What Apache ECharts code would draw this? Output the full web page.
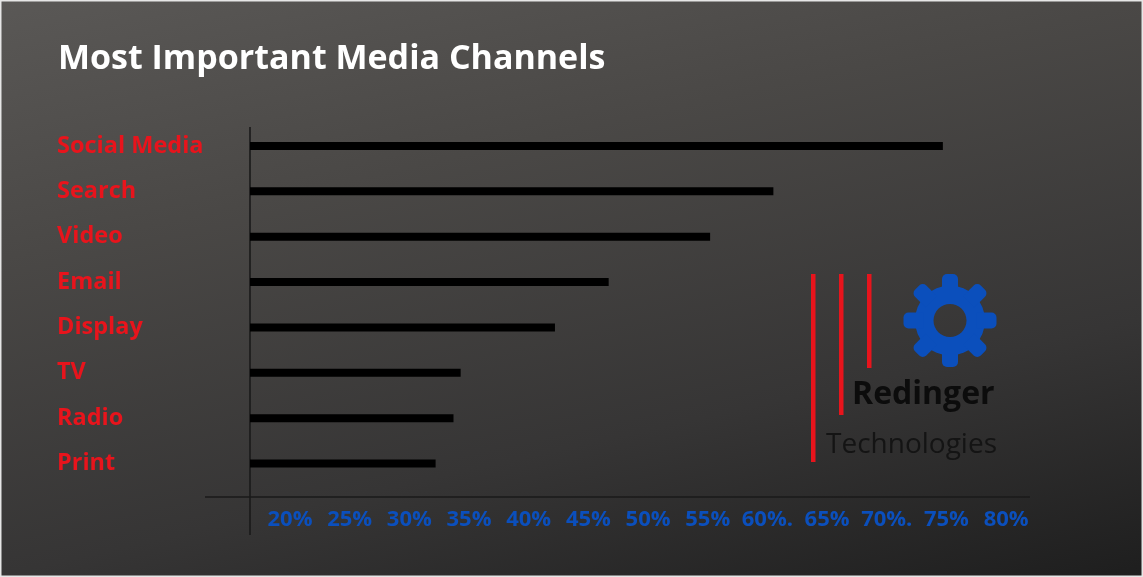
<!DOCTYPE html>
<html>
<head>
<meta charset="utf-8">
<style>
  html, body { margin: 0; padding: 0; background: #2e2d2c; }
  #chart { width: 1143px; height: 577px; }
</style>
<script src="https://cdn.jsdelivr.net/npm/echarts@6/dist/echarts.min.js"></script>
</head>
<body>
<div id="chart"></div>
<script>
// ---- data ----
const categories = ['Social Media', 'Search', 'Video', 'Email', 'Display', 'TV', 'Radio', 'Print'];
const shares = [74.7, 60.5, 55.2, 46.7, 42.2, 34.3, 33.7, 32.2];
const tickValues = [20, 25, 30, 35, 40, 45, 50, 55, 60, 65, 70, 75, 80];
const tickLabels = ['20%', '25%', '30%', '35%', '40%', '45%', '50%', '55%', '60%.', '65%', '70%.', '75%', '80%'];
const titleText = 'Most Important Media Channels';
const logoName = 'Redinger';
const logoSub = 'Technologies';

// ---- chart ----
const chart = echarts.init(document.getElementById('chart'), null, { renderer: 'canvas' });

const FONT = '"Open Sans", "Noto Sans", sans-serif';
const BLUE = '#0b4fbc';
const RED = '#e8141c';

// gear teeth
const gearChildren = [
  { type: 'ring', shape: { cx: 0, cy: 0, r: 35, r0: 16.5 }, style: { fill: BLUE } }
];
for (let k = 0; k < 8; k++) {
  gearChildren.push({
    type: 'rect',
    rotation: k * Math.PI / 4,
    shape: { x: -8, y: -46.5, width: 16, height: 20, r: [5, 5, 0, 0] },
    style: { fill: BLUE }
  });
}

const option = {
  animation: false,
  backgroundColor: {
    type: 'linear', x: 0, y: 0, x2: 0.1556, y2: 1.375,
    colorStops: [
      { offset: 0, color: '#5a5856' },
      { offset: 0.31, color: '#4a4846' },
      { offset: 0.69, color: '#363535' },
      { offset: 1, color: '#1e1e1e' }
    ]
  },
  title: {
    text: titleText,
    left: 53,
    top: 37,
    textStyle: { color: '#ffffff', fontFamily: FONT, fontWeight: 'bold', fontSize: 34 }
  },
  grid: {
    left: 250, right: 113, top: 123.3, height: 362.9,
    containLabel: false, outerBoundsMode: 'none'
  },
  xAxis: {
    type: 'value',
    min: 16.65,
    max: 82,
    axisLine: { show: false },
    axisTick: { show: false },
    splitLine: { show: false },
    axisLabel: {
      customValues: tickValues,
      margin: 23,
      color: BLUE,
      fontFamily: FONT,
      fontWeight: 'bold',
      fontSize: 22,
      formatter: function (v) {
        const i = tickValues.indexOf(Math.round(v));
        return i >= 0 ? tickLabels[i] : '';
      }
    }
  },
  yAxis: {
    type: 'category',
    data: categories,
    inverse: true,
    axisLine: { show: false },
    axisTick: { show: false },
    splitLine: { show: false },
    axisLabel: {
      align: 'left',
      margin: 193,
      color: RED,
      fontFamily: FONT,
      fontWeight: 'bold',
      fontSize: 23.5
    }
  },
  series: [{
    type: 'bar',
    data: shares,
    barWidth: 8,
    itemStyle: { color: '#000000' },
    silent: true
  }],
  graphic: [
    // frame
    { type: 'rect', shape: { x: 0, y: 0, width: 1143, height: 577 },
      style: { fill: 'none', stroke: '#e6e6e6', lineWidth: 3 }, silent: true, z: 100 },
    // axis lines
    { type: 'line', shape: { x1: 205, y1: 497, x2: 1030, y2: 497 },
      style: { stroke: '#1a1a1a', lineWidth: 1.6 }, silent: true },
    { type: 'line', shape: { x1: 250, y1: 127, x2: 250, y2: 535 },
      style: { stroke: '#1a1a1a', lineWidth: 1.6 }, silent: true },
    // logo red bars
    { type: 'rect', shape: { x: 811, y: 274, width: 4.5, height: 188 }, style: { fill: RED }, silent: true },
    { type: 'rect', shape: { x: 839, y: 274, width: 4.5, height: 141 }, style: { fill: RED }, silent: true },
    { type: 'rect', shape: { x: 867, y: 274, width: 4.5, height: 94 }, style: { fill: RED }, silent: true },
    // gear
    { type: 'group', x: 950, y: 320.5, children: gearChildren, silent: true },
    // logo texts
    { type: 'text', x: 852, y: 395,
      style: { text: logoName, fill: '#0c0c0c', font: 'bold 32px ' + FONT, verticalAlign: 'middle', align: 'left' },
      silent: true },
    { type: 'text', x: 826, y: 445,
      style: { text: logoSub, fill: '#141414', font: '28px ' + FONT, verticalAlign: 'middle', align: 'left' },
      silent: true }
  ]
};

chart.setOption(option);
</script>
</body>
</html>
